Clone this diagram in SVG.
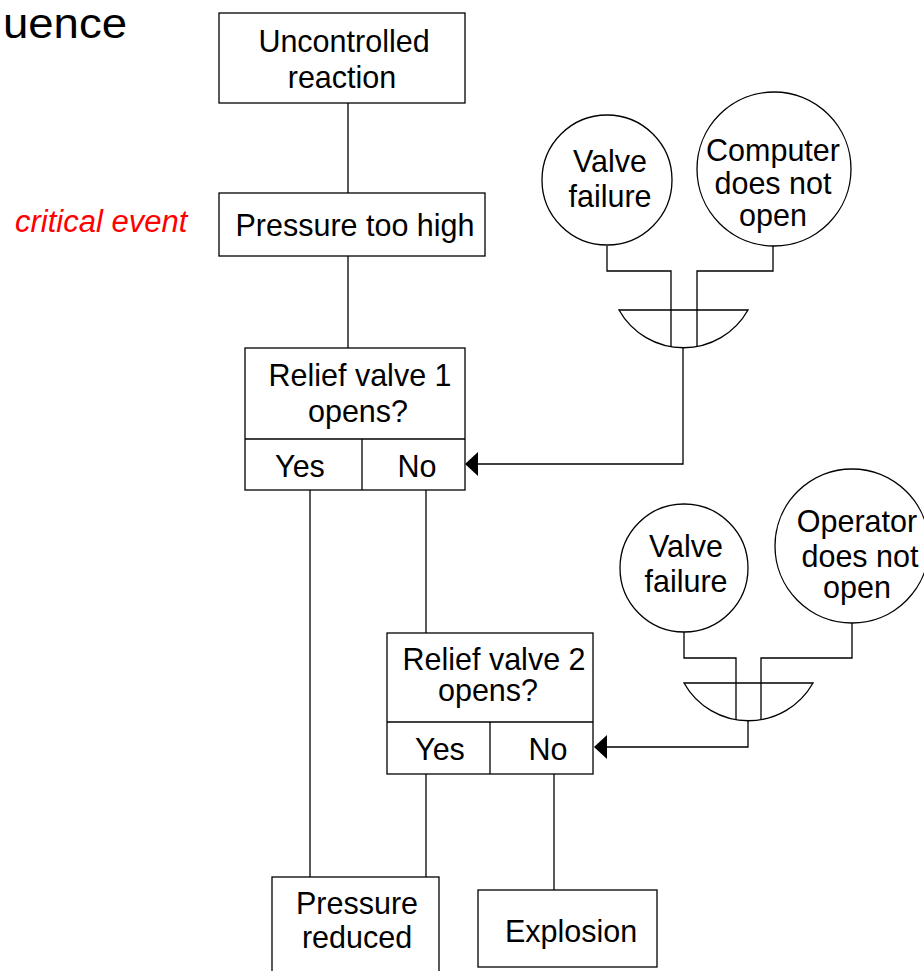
<svg xmlns="http://www.w3.org/2000/svg" width="924" height="971" viewBox="0 0 924 971">
<defs>
<style>
.box{fill:#fff;stroke:#000;stroke-width:1.3}
.ln{fill:none;stroke:#000;stroke-width:1.3}
.t{font-family:"Liberation Sans",Arial,sans-serif;font-size:30.5px;fill:#000;text-anchor:middle}
.arr{fill:#000}
</style>
</defs>
<rect width="924" height="971" fill="#fff"/>
<text x="3" y="38" font-family="Liberation Sans, Arial, sans-serif" font-size="42" textLength="124" lengthAdjust="spacingAndGlyphs">uence</text>
<text x="15" y="232" font-family="Liberation Sans, Arial, sans-serif" font-size="31" font-style="italic" fill="#ff0000">critical event</text>
<g id="connectors">
<line class="ln" x1="348" y1="103" x2="348" y2="193"/>
<line class="ln" x1="348" y1="256" x2="348" y2="348"/>
<line class="ln" x1="310" y1="490" x2="310" y2="877"/>
<line class="ln" x1="426" y1="490" x2="426" y2="633"/>
<line class="ln" x1="426" y1="774" x2="426" y2="877"/>
<line class="ln" x1="554" y1="774" x2="554" y2="890"/>
<polyline class="ln" points="607,246 607,271 671,271 671,347"/>
<polyline class="ln" points="773,246 773,271 697,271 697,347"/>
<polyline class="ln" points="683,348 683,464 478,464"/>
<polygon class="arr" points="465,464 478,452 478,476"/>
<polyline class="ln" points="684,632 684,658 736,658 736,720"/>
<polyline class="ln" points="852,623 852,658 761,658 761,720"/>
<polyline class="ln" points="748,721 748,747 607,747"/>
<polygon class="arr" points="594,747 607,735 607,759"/>
</g>
<g id="gate1"><path class="ln" d="M619,310 L748,310 A74,74 0 0 1 619,310 Z"/></g>
<g id="gate2"><path class="ln" d="M684,683 L813,683 A74,74 0 0 1 684,683 Z"/></g>
<g id="uncontrolled">
<rect class="box" x="219" y="13" width="246" height="90"/>
<text class="t" x="344" y="52">Uncontrolled</text>
<text class="t" x="342" y="88">reaction</text>
</g>
<g id="pressure-high">
<rect class="box" x="219" y="193" width="266" height="63"/>
<text class="t" x="355" y="236">Pressure too high</text>
</g>
<g id="relief1">
<rect class="box" x="245" y="348" width="220" height="142"/>
<line class="ln" x1="245" y1="439" x2="465" y2="439"/>
<line class="ln" x1="362" y1="439" x2="362" y2="490"/>
<text class="t" x="360" y="386">Relief valve 1</text>
<text class="t" x="358" y="422">opens?</text>
<text class="t" x="300" y="477">Yes</text>
<text class="t" x="417" y="477">No</text>
</g>
<g id="relief2">
<rect class="box" x="387" y="633" width="206" height="141"/>
<line class="ln" x1="387" y1="722" x2="593" y2="722"/>
<line class="ln" x1="490" y1="722" x2="490" y2="774"/>
<text class="t" x="494" y="670">Relief valve 2</text>
<text class="t" x="488" y="701">opens?</text>
<text class="t" x="440" y="760">Yes</text>
<text class="t" x="548" y="760">No</text>
</g>
<g id="valve1">
<circle class="box" cx="607" cy="180" r="65"/>
<text class="t" x="610" y="172">Valve</text>
<text class="t" x="610" y="207">failure</text>
</g>
<g id="computer">
<circle class="box" cx="774" cy="169" r="77"/>
<text class="t" x="773" y="161">Computer</text>
<text class="t" x="773" y="194">does not</text>
<text class="t" x="773" y="226">open</text>
</g>
<g id="valve2">
<circle class="box" cx="684" cy="568" r="64"/>
<text class="t" x="686" y="557">Valve</text>
<text class="t" x="686" y="592">failure</text>
</g>
<g id="operator">
<circle class="box" cx="852" cy="546" r="77"/>
<text class="t" x="857" y="532">Operator</text>
<text class="t" x="860" y="567">does not</text>
<text class="t" x="857" y="598">open</text>
</g>
<g id="pressure-reduced">
<rect class="box" x="272" y="877" width="167" height="110"/>
<text class="t" x="357" y="914">Pressure</text>
<text class="t" x="357" y="948">reduced</text>
</g>
<g id="explosion">
<rect class="box" x="478" y="890" width="179" height="77"/>
<text class="t" x="571" y="942">Explosion</text>
</g>
</svg>
